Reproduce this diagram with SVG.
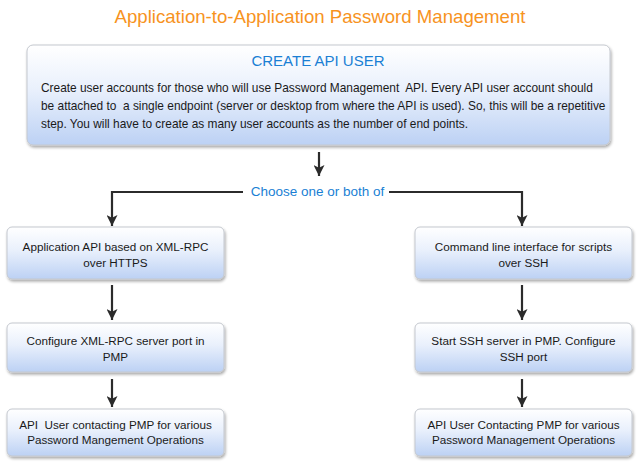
<svg xmlns="http://www.w3.org/2000/svg" width="640" height="468" viewBox="0 0 640 468">
<defs>
<linearGradient id="g" x1="0" y1="0" x2="0" y2="1">
<stop offset="0" stop-color="#ffffff"/>
<stop offset="0.45" stop-color="#e9f0fc"/>
<stop offset="1" stop-color="#bcd1f4"/>
</linearGradient>
<filter id="sh" x="-5%" y="-10%" width="110%" height="130%">
<feGaussianBlur in="SourceAlpha" stdDeviation="1.5"/>
<feOffset dx="1" dy="2" result="b"/>
<feComponentTransfer><feFuncA type="linear" slope="0.35"/></feComponentTransfer>
<feMerge><feMergeNode/><feMergeNode in="SourceGraphic"/></feMerge>
</filter>
<marker id="ah" viewBox="0 0 10 10" refX="10" refY="5" markerWidth="5" markerHeight="5" orient="auto" markerUnits="strokeWidth">
<path d="M0,0 L10,5 L0,10 L2.5,5 z" fill="#2b2b2b"/>
</marker>
</defs>
<style>
.box{fill:url(#g);stroke:#c4c8cf;stroke-width:1;filter:url(#sh)}
.t{font-family:"Liberation Sans",Arial,sans-serif;fill:#1a1a1a}
.bt{font-size:11.7px;text-anchor:middle}
.c{fill:none;stroke:#2b2b2b;stroke-width:2.2}
</style>
<rect width="640" height="468" fill="#ffffff"/>
<text x="320" y="22.5" class="t" style="font-size:19px;fill:#f7931e" text-anchor="middle" textLength="411" lengthAdjust="spacingAndGlyphs">Application-to-Application Password Management</text>

<g id="create-api-user">
<rect class="box" x="27" y="45" width="583" height="100" rx="6"/>
<text x="318" y="66" class="t" style="font-size:15px;fill:#1a7fd4" text-anchor="middle">CREATE API USER</text>
<text class="t" style="font-size:11.9px" xml:space="preserve"><tspan x="41" y="91.5">Create user accounts for those who will use Password Management  API. Every API user account should</tspan><tspan x="41" y="109.5">be attached to  a single endpoint (server or desktop from where the API is used). So, this will be a repetitive</tspan><tspan x="41" y="127.5">step. You will have to create as many user accounts as the number of end points.</tspan></text>
</g>

<g id="connectors">
<line class="c" x1="319" y1="152" x2="319" y2="176" marker-end="url(#ah)"/>
<path class="c" d="M243,192 H112 V226" marker-end="url(#ah)"/>
<path class="c" d="M389,192 H522 V226" marker-end="url(#ah)"/>
<line class="c" x1="112" y1="285" x2="112" y2="320" marker-end="url(#ah)"/>
<line class="c" x1="112" y1="379" x2="112" y2="407" marker-end="url(#ah)"/>
<line class="c" x1="522" y1="285" x2="522" y2="320" marker-end="url(#ah)"/>
<line class="c" x1="522" y1="379" x2="522" y2="407" marker-end="url(#ah)"/>
<text x="317.5" y="195.5" class="t" style="font-size:13.5px;fill:#1a7fd4" text-anchor="middle">Choose one or both of</text>
</g>

<g id="xmlrpc-api">
<rect class="box" x="7" y="227" width="217" height="52" rx="5"/>
<text class="t bt"><tspan x="115.5" y="251">Application API based on XML-RPC</tspan><tspan x="115.5" y="266.5">over HTTPS</tspan></text>
</g>
<g id="configure-xmlrpc">
<rect class="box" x="7" y="323" width="217" height="49" rx="5"/>
<text class="t bt"><tspan x="115.5" y="345">Configure XML-RPC server port in</tspan><tspan x="115.5" y="360.5">PMP</tspan></text>
</g>
<g id="api-user-left">
<rect class="box" x="7" y="409" width="217" height="47" rx="5"/>
<text class="t bt" xml:space="preserve"><tspan x="115.5" y="428.5">API  User contacting PMP for various</tspan><tspan x="115.5" y="444">Password Mangement Operations</tspan></text>
</g>

<g id="cli-ssh">
<rect class="box" x="415" y="227" width="217" height="52" rx="5"/>
<text class="t bt"><tspan x="523.5" y="251">Command line interface for scripts</tspan><tspan x="523.5" y="266.5">over SSH</tspan></text>
</g>
<g id="start-ssh">
<rect class="box" x="415" y="323" width="217" height="49" rx="5"/>
<text class="t bt"><tspan x="523.5" y="345">Start SSH server in PMP. Configure</tspan><tspan x="523.5" y="360.5">SSH port</tspan></text>
</g>
<g id="api-user-right">
<rect class="box" x="415" y="409" width="217" height="47" rx="5"/>
<text class="t bt"><tspan x="523.5" y="428.5">API User Contacting PMP for various</tspan><tspan x="523.5" y="444">Password Management Operations</tspan></text>
</g>
</svg>
